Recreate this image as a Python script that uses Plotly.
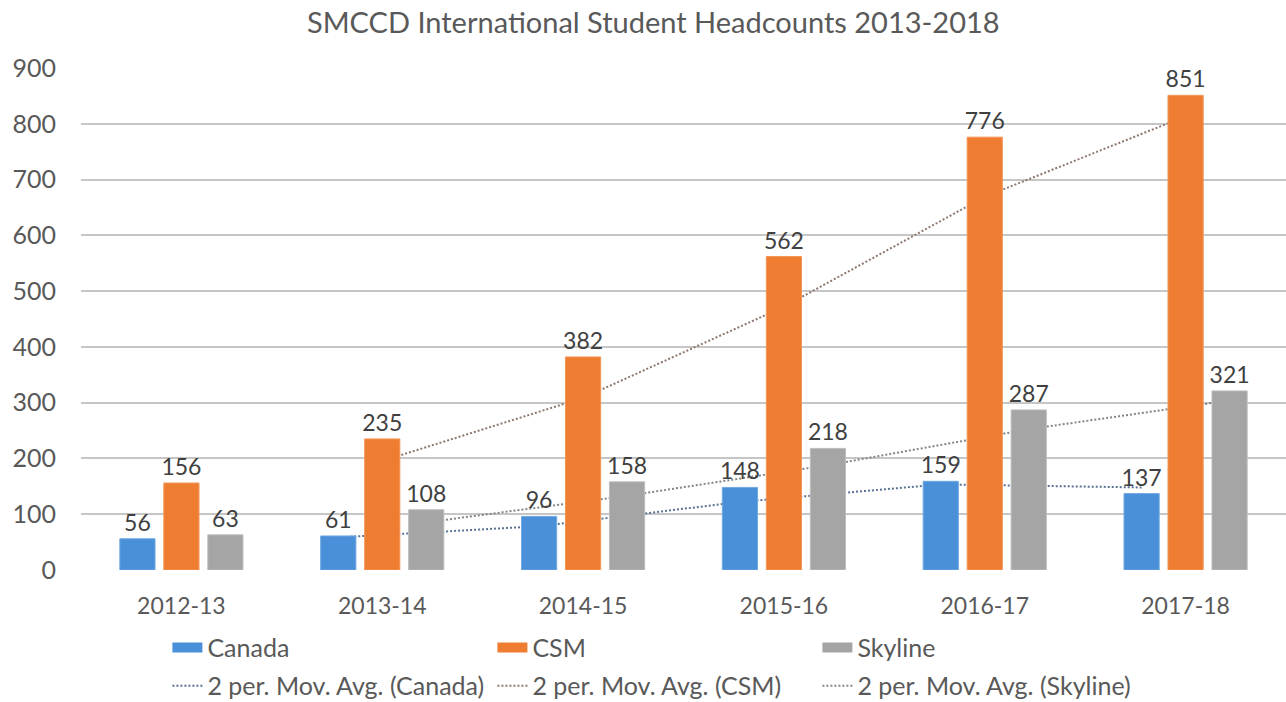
import plotly.graph_objects as go

categories = ["2012-13", "2013-14", "2014-15", "2015-16", "2016-17", "2017-18"]
canada = [56, 61, 96, 148, 159, 137]
csm = [156, 235, 382, 562, 776, 851]
skyline = [63, 108, 158, 218, 287, 321]

series_names = ["Canada", "CSM", "Skyline"]
series_values = [canada, csm, skyline]
bar_colors = ["#4A90D9", "#EE7D31", "#A5A5A5"]
bar_lines = ["#6FA8E2", "#F29658", "#BDBDBD"]
ma_colors = ["#5A7394", "#8E776E", "#858585"]

FONT = "Lato"
TEXT = "#595959"
BARGAP = 0.343
BARGROUPGAP = 0.2

def moving_avg(v):
    return [(v[i - 1] + v[i]) / 2 for i in range(1, len(v))]

fig = go.Figure()
xs = list(range(len(categories)))
slot = (1 - BARGAP) / 3

# moving average trendlines on the base axes (drawn beneath the bars)
for k, (name, vals) in enumerate(zip(series_names, series_values)):
    off = (k - 1) * slot
    fig.add_trace(go.Scatter(
        x=[i + off for i in xs[1:]], y=moving_avg(vals),
        mode="lines", name=f"2 per. Mov. Avg. ({name})",
        line=dict(color=ma_colors[k], width=2, dash="2px,2px"),
        legend="legend2", legendrank=4 + k, xaxis="x", yaxis="y", hoverinfo="skip",
    ))

# bars on overlay axes so they sit above the trendlines
for k, (name, vals) in enumerate(zip(series_names, series_values)):
    fig.add_trace(go.Bar(
        x=xs, y=vals, name=name, legendgroup=name, showlegend=False,
        marker=dict(color=bar_colors[k], line=dict(color=bar_lines[k], width=1)),
        text=[str(v) for v in vals], textposition="outside", constraintext="none",
        textfont=dict(family=FONT, size=23, color="#404040"),
        cliponaxis=False, xaxis="x2", yaxis="y2",
    ))
    # legend swatch (wide rectangle like the original)
    fig.add_trace(go.Scatter(
        x=[None], y=[None], mode="lines", name=name, legendgroup=name,
        line=dict(color=bar_colors[k], width=16),
        legend="legend", legendrank=1 + k, xaxis="x2", yaxis="y2",
    ))

leg_common = dict(orientation="h", xanchor="left", yanchor="middle",
                  entrywidth=280, traceorder="normal", itemwidth=30,
                  font=dict(family=FONT, size=25, color=TEXT),
                  bgcolor="rgba(0,0,0,0)")

fig.update_layout(
    width=1286, height=702,
    margin=dict(l=81, r=0, t=68, b=132, autoexpand=False),
    paper_bgcolor="white", plot_bgcolor="white",
    barmode="group", bargap=BARGAP, bargroupgap=BARGROUPGAP,
    font=dict(family=FONT, color=TEXT, size=20),
    title=dict(text="SMCCD International Student Headcounts 2013-2018",
               x=0.508, xanchor="center", y=0.968, yanchor="middle",
               font=dict(family=FONT, size=29, color=TEXT)),
    xaxis=dict(range=[-0.5, 5.5], tickvals=xs, ticktext=categories,
               showgrid=False, zeroline=False, showline=False,
               ticklabelstandoff=20, tickfont=dict(size=23, color=TEXT)),
    yaxis=dict(range=[0, 900], dtick=100, showgrid=True, gridcolor="#C6C6C6",
               gridwidth=2, zeroline=False, showline=False,
               ticklabelstandoff=24, tickfont=dict(size=25, color=TEXT)),
    xaxis2=dict(range=[-0.5, 5.5], overlaying="x", visible=False),
    yaxis2=dict(range=[0, 900], overlaying="y", visible=False),
    legend=dict(x=0.0717, y=-0.155, **leg_common),
    legend2=dict(x=0.0717, y=-0.231, **leg_common),
    showlegend=True,
)

fig.write_html(
    "out.html",
    config={"displayModeBar": False},
    post_script="document.body.style.margin='0';document.body.style.overflow='hidden';",
)
